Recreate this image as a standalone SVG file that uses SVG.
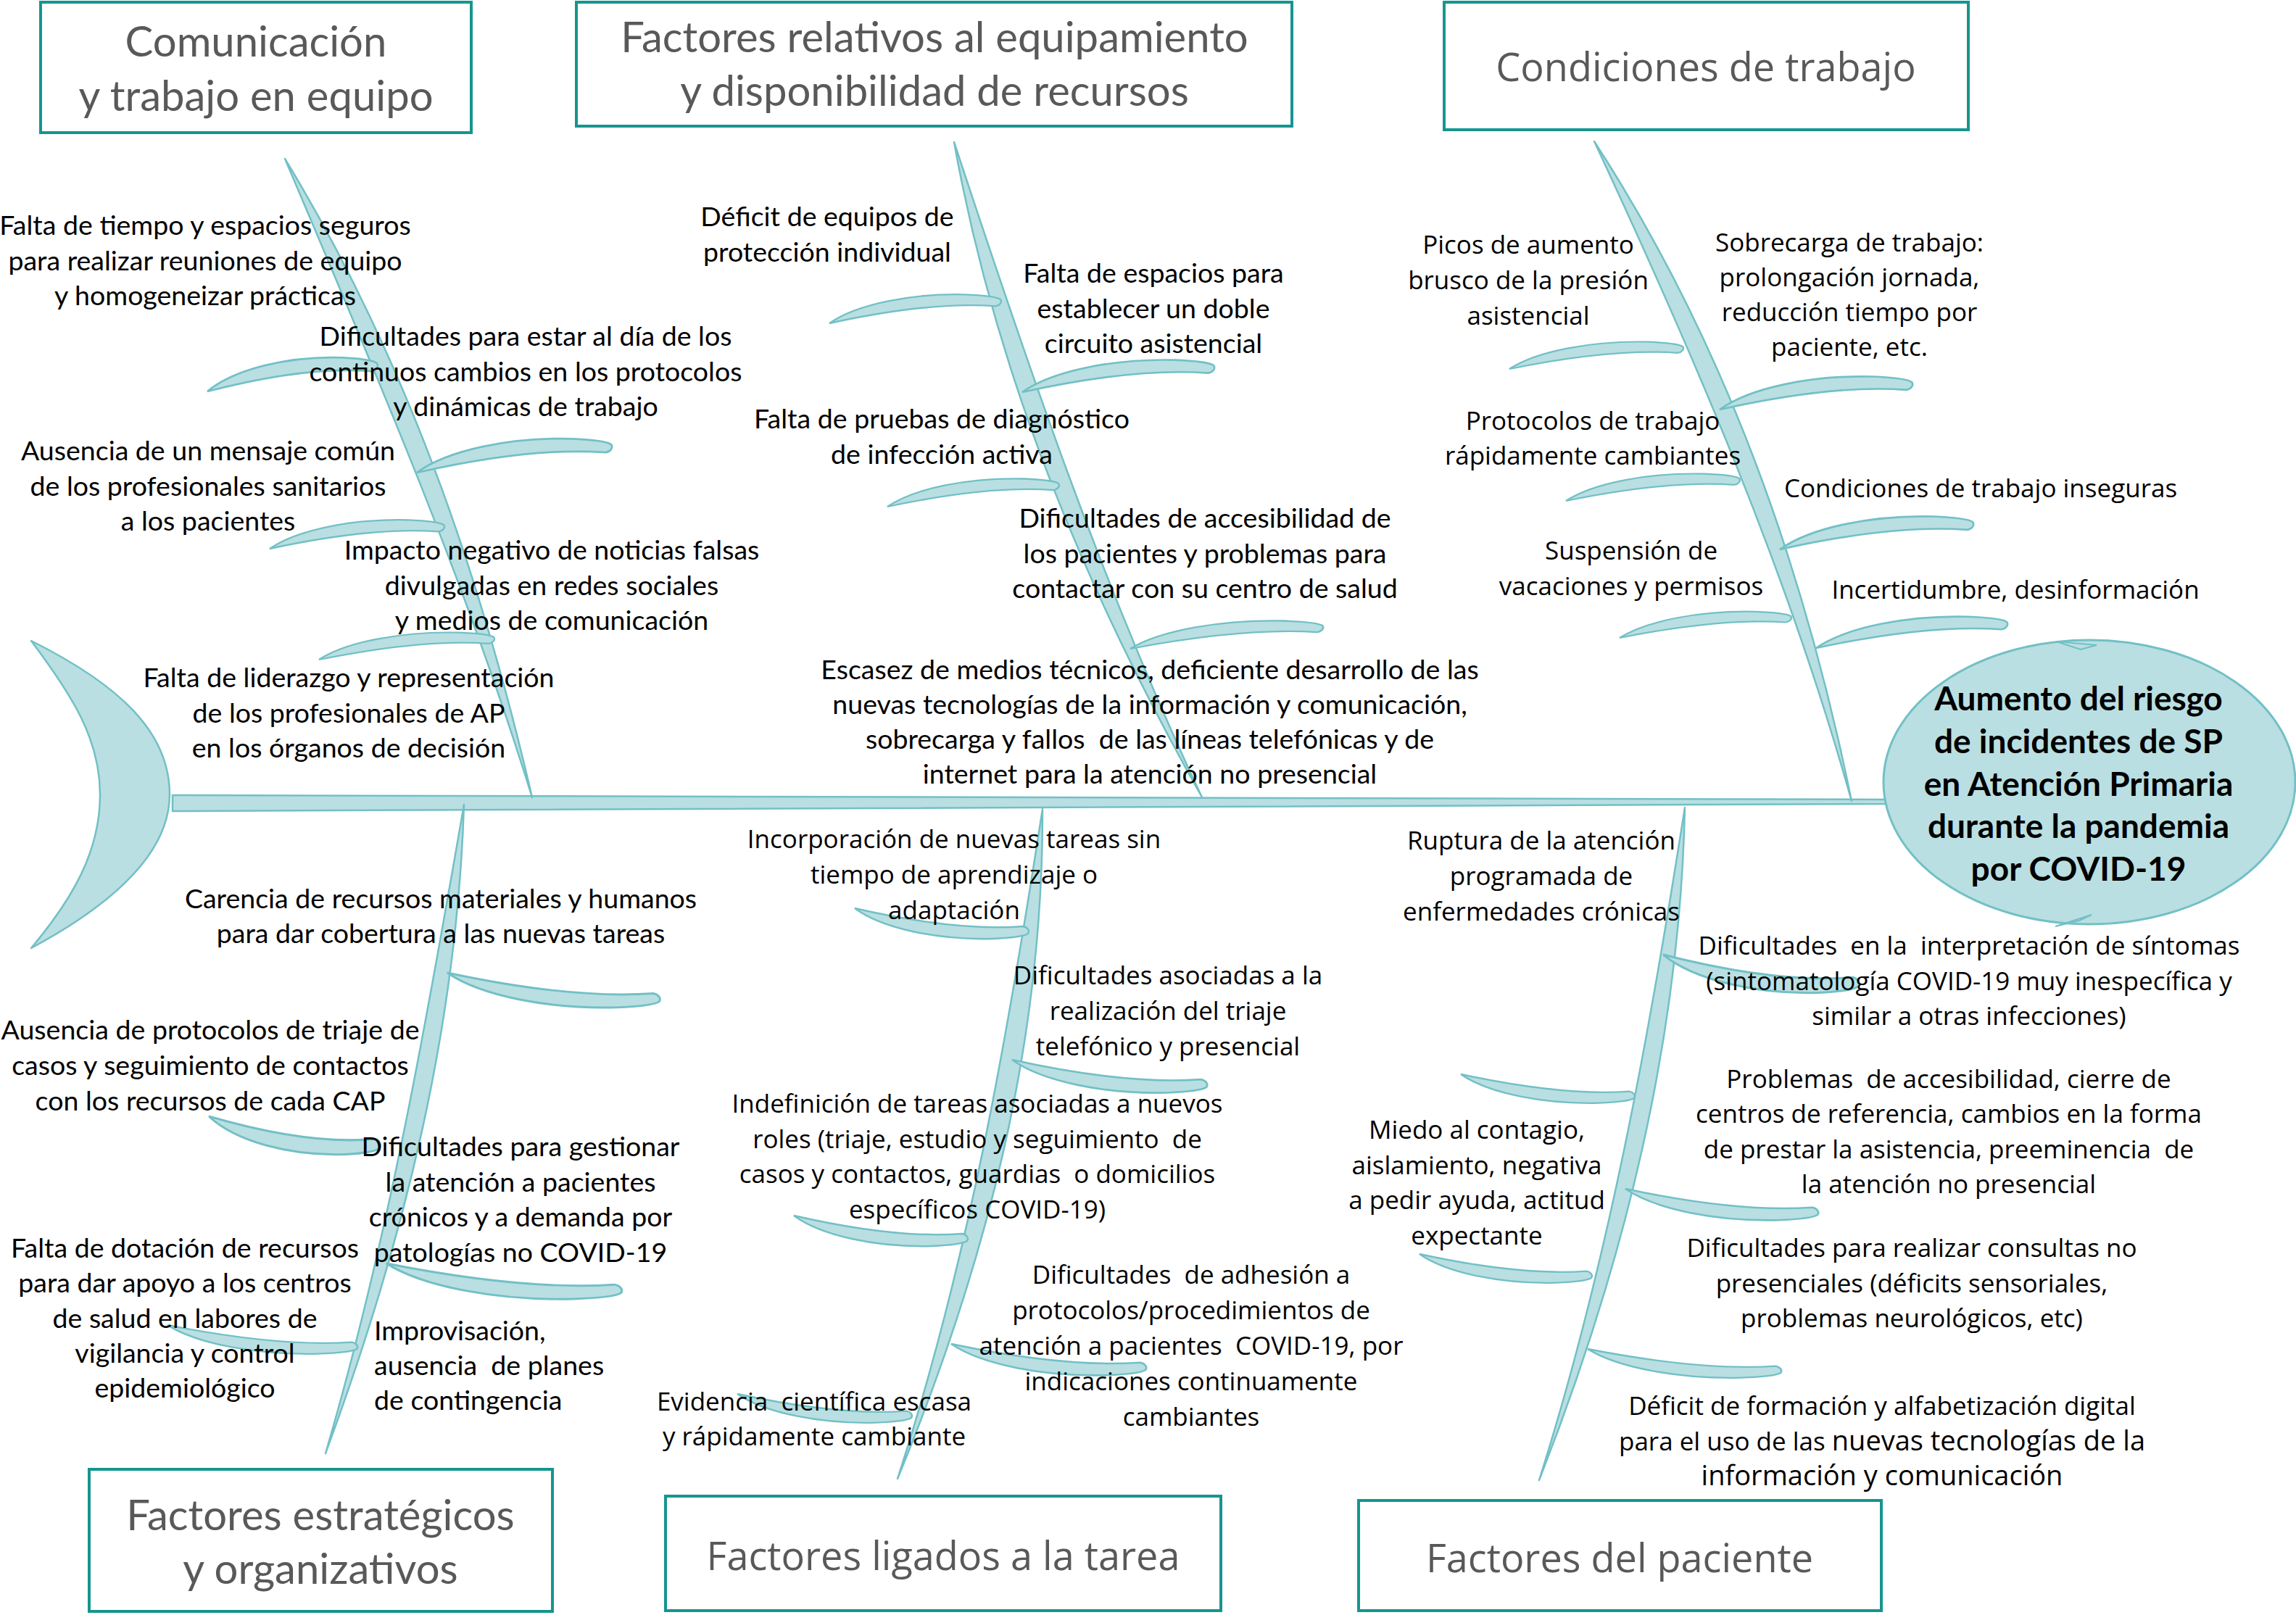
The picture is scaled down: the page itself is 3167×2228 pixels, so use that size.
<svg xmlns="http://www.w3.org/2000/svg" width="3167" height="2228" viewBox="0 0 3167 2228">
<defs>
<style>
.bone{fill:#b9dfe2;stroke:#72c0c5;stroke-width:2.5;stroke-linejoin:round}
.fin{fill:#b9dfe2;stroke:#72c0c5;stroke-width:2.5;vector-effect:non-scaling-stroke}
.box{fill:#fff;stroke:#16958f;stroke-width:4}
.c{font-family:Lato,'Liberation Sans',sans-serif;font-size:37.5px;fill:#000;text-anchor:middle}
.s{font-family:'Open Sans','Liberation Sans',sans-serif;font-size:35px;fill:#000;text-anchor:middle}
.tc{font-family:Lato,'Liberation Sans',sans-serif;font-size:58px;fill:#595959;text-anchor:middle}
.ts{font-family:'Open Sans','Liberation Sans',sans-serif;font-size:54px;fill:#595959;text-anchor:middle}
.h{font-family:Lato,'Liberation Sans',sans-serif;font-size:46px;font-weight:bold;fill:#000;text-anchor:middle}
</style>
<path id="fu" d="M0,0 C40,-28 120,-44 200,-42 C225,-41 245,-39 251,-35 C254,-31 250,-26 244,-25 C190,-29 110,-24 0,0 Z"/>
<path id="fl" d="M0,0 C40,28 120,44 200,42 C225,41 245,39 251,35 C254,31 250,26 244,25 C190,29 110,24 0,0 Z"/>
</defs>
<rect width="3167" height="2228" fill="#fff"/>

<g id="connectors">
  <!-- tail -->
  <path class="bone" d="M43,884 C165,945 234,1010 234,1096 C234,1175 160,1245 43,1308 C100,1240 138,1175 138,1096 C138,1020 100,960 43,884 Z"/>
  <!-- main spine -->
  <path class="bone" d="M238,1097 L2602,1103 L2602,1109 L238,1119 Z"/>
  <!-- category bones -->
  <path class="bone" d="M393,219 C559,492 662,790 734,1100 C641,799 516,509 393,219 Z"/>
  <path class="bone" d="M1316,196 C1417,502 1520,808 1658,1100 C1498,816 1374,519 1316,196 Z"/>
  <path class="bone" d="M2199,195 C2380,474 2488,782 2554,1105 C2466,790 2337,491 2199,195 Z"/>
  <path class="bone" d="M640,1110 C630,1420 556,1716 449,2005 C535,1712 588,1411 640,1110 Z"/>
  <path class="bone" d="M1438,1116 C1439,1439 1360,1744 1238,2040 C1336,1739 1390,1428 1438,1116 Z"/>
  <path class="bone" d="M2324,1114 C2317,1436 2240,1744 2123,2042 C2219,1739 2275,1427 2324,1114 Z"/>
  <!-- upper fins -->
  <use href="#fu" class="fin" transform="translate(286,540) scale(0.932,1.111)"/>
  <use href="#fu" class="fin" transform="translate(575,652) scale(1.068,1.111)"/>
  <use href="#fu" class="fin" transform="translate(372,757) scale(0.956,0.944)"/>
  <use href="#fu" class="fin" transform="translate(440,910) scale(0.96,0.889)"/>
  <use href="#fu" class="fin" transform="translate(1144,446) scale(0.94,0.944)"/>
  <use href="#fu" class="fin" transform="translate(1410,541) scale(1.052,1.056)"/>
  <use href="#fu" class="fin" transform="translate(1224,699) scale(0.94,0.917)"/>
  <use href="#fu" class="fin" transform="translate(1559,895) scale(1.056,0.917)"/>
  <use href="#fu" class="fin" transform="translate(2082,509) scale(0.952,0.889)"/>
  <use href="#fu" class="fin" transform="translate(2372,565) scale(1.056,1.083)"/>
  <use href="#fu" class="fin" transform="translate(2160,691) scale(0.952,0.889)"/>
  <use href="#fu" class="fin" transform="translate(2455,758) scale(1.06,1.083)"/>
  <use href="#fu" class="fin" transform="translate(2234,880) scale(0.94,0.861)"/>
  <use href="#fu" class="fin" transform="translate(2505,894) scale(1.048,1.028)"/>
  <!-- lower fins -->
  <use href="#fl" class="fin" transform="translate(617,1342) scale(1.164,1.139)"/>
  <use href="#fl" class="fin" transform="translate(288,1540) scale(0.94,1.25)"/>
  <use href="#fl" class="fin" transform="translate(533,1743) scale(1.288,1.167)"/>
  <use href="#fl" class="fin" transform="translate(231,1828) scale(1.04,0.944)"/>
  <use href="#fl" class="fin" transform="translate(1179,1253) scale(0.952,1.0)"/>
  <use href="#fl" class="fin" transform="translate(1396,1462) scale(1.068,1.083)"/>
  <use href="#fl" class="fin" transform="translate(1095,1677) scale(0.952,1.0)"/>
  <use href="#fl" class="fin" transform="translate(1312,1854) scale(1.068,1.028)"/>
  <use href="#fl" class="fin" transform="translate(1017,1923) scale(0.956,0.944)"/>
  <use href="#fl" class="fin" transform="translate(2294,1317) scale(1.072,1.25)"/>
  <use href="#fl" class="fin" transform="translate(2015,1482) scale(0.952,0.944)"/>
  <use href="#fl" class="fin" transform="translate(2242,1640) scale(1.056,1.028)"/>
  <use href="#fl" class="fin" transform="translate(1958,1730) scale(0.944,0.944)"/>
  <use href="#fl" class="fin" transform="translate(2190,1861) scale(1.06,0.944)"/>
</g>

<g id="head">
  <ellipse cx="2882" cy="1079" rx="284" ry="196" fill="#b9dfe2" stroke="#72c0c5" stroke-width="3"/>
  <path d="M2836,885 L2892,890 L2870,896 Z" fill="#b9dfe2" stroke="#72c0c5" stroke-width="2"/>
  <path d="M2835,1278 L2885,1262 L2868,1270 Z" fill="#b9dfe2" stroke="#72c0c5" stroke-width="2"/>
  <text class="h" x="2867" y="980">Aumento del riesgo<tspan x="2867" dy="58.8">de incidentes de SP</tspan><tspan x="2867" dy="58.8">en Atención Primaria</tspan><tspan x="2867" dy="58.8">durante la pandemia</tspan><tspan x="2867" dy="58.8">por COVID-19</tspan></text>
</g>

<g id="cat-comunicacion">
  <rect class="box" x="56" y="3" width="594" height="180"/>
  <text class="tc" x="353" y="78">Comunicación<tspan x="353" dy="75">y trabajo en equipo</tspan></text>
</g>
<g id="cat-equipamiento">
  <rect class="box" x="795" y="3" width="987" height="171"/>
  <text class="tc" x="1289" y="72">Factores relativos al equipamiento<tspan x="1289" dy="74">y disponibilidad de recursos</tspan></text>
</g>
<g id="cat-condiciones">
  <rect class="box" x="1992" y="3" width="723" height="176"/>
  <text class="ts" x="2353" y="112">Condiciones de trabajo</text>
</g>
<g id="cat-estrategicos">
  <rect class="box" x="123" y="2027" width="639" height="196"/>
  <text class="tc" x="442" y="2111">Factores estratégicos<tspan x="442" dy="74">y organizativos</tspan></text>
</g>
<g id="cat-tarea">
  <rect class="box" x="918" y="2064" width="766" height="158"/>
  <text class="ts" x="1301" y="2166">Factores ligados a la tarea</text>
</g>
<g id="cat-paciente">
  <rect class="box" x="1874" y="2070" width="721" height="152"/>
  <text class="ts" x="2234" y="2169">Factores del paciente</text>
</g>

<g id="causes-comunicacion">
  <g id="c1"><text class="c" x="283" y="324">Falta de tiempo y espacios seguros<tspan x="283" dy="48.5">para realizar reuniones de equipo</tspan><tspan x="283" dy="48.5">y homogeneizar prácticas</tspan></text></g>
  <g id="c2"><text class="c" x="725" y="477">Dificultades para estar al día de los<tspan x="725" dy="48.5">continuos cambios en los protocolos</tspan><tspan x="725" dy="48.5">y dinámicas de trabajo</tspan></text></g>
  <g id="c3"><text class="c" x="287" y="635">Ausencia de un mensaje común<tspan x="287" dy="48.5">de los profesionales sanitarios</tspan><tspan x="287" dy="48.5">a los pacientes</tspan></text></g>
  <g id="c4"><text class="c" x="761" y="772">Impacto negativo de noticias falsas<tspan x="761" dy="48.5">divulgadas en redes sociales</tspan><tspan x="761" dy="48.5">y medios de comunicación</tspan></text></g>
  <g id="c5"><text class="c" x="481" y="948">Falta de liderazgo y representación<tspan x="481" dy="48.5">de los profesionales de AP</tspan><tspan x="481" dy="48.5">en los órganos de decisión</tspan></text></g>
</g>
<g id="causes-equipamiento">
  <g id="e1"><text class="c" x="1141" y="312">Déficit de equipos de<tspan x="1141" dy="48.5">protección individual</tspan></text></g>
  <g id="e2"><text class="c" x="1591" y="390">Falta de espacios para<tspan x="1591" dy="48.5">establecer un doble</tspan><tspan x="1591" dy="48.5">circuito asistencial</tspan></text></g>
  <g id="e3"><text class="c" x="1299" y="591">Falta de pruebas de diagnóstico<tspan x="1299" dy="48.5">de infección activa</tspan></text></g>
  <g id="e4"><text class="c" x="1662" y="728">Dificultades de accesibilidad de<tspan x="1662" dy="48.5">los pacientes y problemas para</tspan><tspan x="1662" dy="48.5">contactar con su centro de salud</tspan></text></g>
  <g id="e5"><text class="c" x="1586" y="937">Escasez de medios técnicos, deficiente desarrollo de las<tspan x="1586" dy="48">nuevas tecnologías de la información y comunicación,</tspan><tspan x="1586" dy="48">sobrecarga y fallos&#160; de las líneas telefónicas y de</tspan><tspan x="1586" dy="48">internet para la atención no presencial</tspan></text></g>
</g>
<g id="causes-condiciones">
  <g id="w1"><text class="s" x="2108" y="350">Picos de aumento<tspan x="2108" dy="48.8">brusco de la presión</tspan><tspan x="2108" dy="48.8">asistencial</tspan></text></g>
  <g id="w2"><text class="s" x="2551" y="347">Sobrecarga de trabajo:<tspan x="2551" dy="48">prolongación jornada,</tspan><tspan x="2551" dy="48">reducción tiempo por</tspan><tspan x="2551" dy="48">paciente, etc.</tspan></text></g>
  <g id="w3"><text class="s" x="2197" y="593">Protocolos de trabajo<tspan x="2197" dy="47.5">rápidamente cambiantes</tspan></text></g>
  <g id="w4"><text class="s" x="2732" y="686">Condiciones de trabajo inseguras</text></g>
  <g id="w5"><text class="s" x="2250" y="772">Suspensión de<tspan x="2250" dy="49">vacaciones y permisos</tspan></text></g>
  <g id="w6"><text class="s" x="2780" y="826">Incertidumbre, desinformación</text></g>
</g>
<g id="causes-estrategicos">
  <g id="o1"><text class="c" x="608" y="1253">Carencia de recursos materiales y humanos<tspan x="608" dy="48">para dar cobertura a las nuevas tareas</tspan></text></g>
  <g id="o2"><text class="c" x="290" y="1434">Ausencia de protocolos de triaje de<tspan x="290" dy="48.8">casos y seguimiento de contactos</tspan><tspan x="290" dy="48.8">con los recursos de cada CAP</tspan></text></g>
  <g id="o3"><text class="c" x="718" y="1595">Dificultades para gestionar<tspan x="718" dy="48.7">la atención a pacientes</tspan><tspan x="718" dy="48.7">crónicos y a demanda por</tspan><tspan x="718" dy="48.7">patologías no COVID-19</tspan></text></g>
  <g id="o4"><text class="c" x="255" y="1735">Falta de dotación de recursos<tspan x="255" dy="48.3">para dar apoyo a los centros</tspan><tspan x="255" dy="48.3">de salud en labores de</tspan><tspan x="255" dy="48.3">vigilancia y control</tspan><tspan x="255" dy="48.3">epidemiológico</tspan></text></g>
  <g id="o5"><text class="c" x="516" y="1849" style="text-anchor:start">Improvisación,<tspan x="516" dy="48">ausencia&#160; de planes</tspan><tspan x="516" dy="48">de contingencia</tspan></text></g>
</g>
<g id="causes-tarea">
  <g id="t1"><text class="s" x="1316" y="1170">Incorporación de nuevas tareas sin<tspan x="1316" dy="49">tiempo de aprendizaje o</tspan><tspan x="1316" dy="49">adaptación</tspan></text></g>
  <g id="t2"><text class="s" x="1611" y="1358">Dificultades asociadas a la<tspan x="1611" dy="49">realización del triaje</tspan><tspan x="1611" dy="49">telefónico y presencial</tspan></text></g>
  <g id="t3"><text class="s" x="1348" y="1535">Indefinición de tareas asociadas a nuevos<tspan x="1348" dy="48.7">roles (triaje, estudio y seguimiento&#160; de</tspan><tspan x="1348" dy="48.7">casos y contactos, guardias&#160; o domicilios</tspan><tspan x="1348" dy="48.7">específicos COVID-19)</tspan></text></g>
  <g id="t4"><text class="s" x="1643" y="1771">Dificultades&#160; de adhesión a<tspan x="1643" dy="49">protocolos/procedimientos de</tspan><tspan x="1643" dy="49">atención a pacientes&#160; COVID-19, por</tspan><tspan x="1643" dy="49">indicaciones continuamente</tspan><tspan x="1643" dy="49">cambiantes</tspan></text></g>
  <g id="t5"><text class="s" x="1123" y="1946">Evidencia&#160; científica escasa<tspan x="1123" dy="48">y rápidamente cambiante</tspan></text></g>
</g>
<g id="causes-paciente">
  <g id="p1"><text class="s" x="2126" y="1172">Ruptura de la atención<tspan x="2126" dy="49">programada de</tspan><tspan x="2126" dy="49">enfermedades crónicas</tspan></text></g>
  <g id="p2"><text class="s" x="2716" y="1317">Dificultades&#160; en la&#160; interpretación de síntomas<tspan x="2716" dy="48.7">(sintomatología COVID-19 muy inespecífica y</tspan><tspan x="2716" dy="48.7">similar a otras infecciones)</tspan></text></g>
  <g id="p3"><text class="s" x="2688" y="1501">Problemas&#160; de accesibilidad, cierre de<tspan x="2688" dy="48.3">centros de referencia, cambios en la forma</tspan><tspan x="2688" dy="48.3">de prestar la asistencia, preeminencia&#160; de</tspan><tspan x="2688" dy="48.3">la atención no presencial</tspan></text></g>
  <g id="p4"><text class="s" x="2037" y="1571">Miedo al contagio,<tspan x="2037" dy="48.7">aislamiento, negativa</tspan><tspan x="2037" dy="48.7">a pedir ayuda, actitud</tspan><tspan x="2037" dy="48.7">expectante</tspan></text></g>
  <g id="p5"><text class="s" x="2637" y="1734">Dificultades para realizar consultas no<tspan x="2637" dy="48.5">presenciales (déficits sensoriales,</tspan><tspan x="2637" dy="48.5">problemas neurológicos, etc)</tspan></text></g>
  <g id="p6"><text class="s" x="2596" y="1952">Déficit de formación y alfabetización digital<tspan x="2596" dy="48.5">para el uso de las <tspan style="font-size:38px">nuevas tecnologías de la</tspan></tspan><tspan x="2596" dy="48.5" style="font-size:38px">información y comunicación</tspan></text></g>
</g>
</svg>
